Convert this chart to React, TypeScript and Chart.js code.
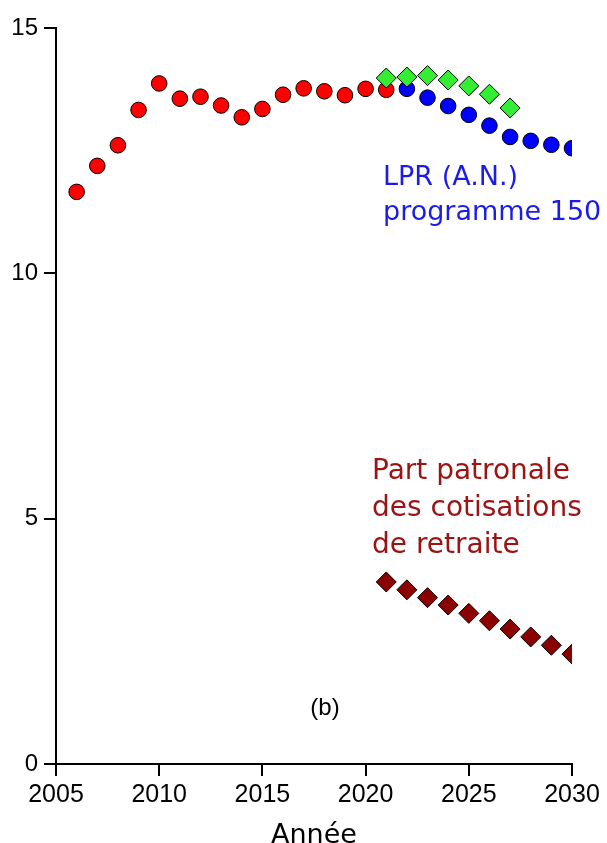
import React, { useEffect, useRef } from "react";
import { Chart, registerables } from "chart.js";

Chart.register(...registerables);

const redYears = [2006, 2007, 2008, 2009, 2010, 2011, 2012, 2013, 2014, 2015, 2016, 2017, 2018, 2019, 2020, 2021];
const redValues = [11.66, 12.19, 12.61, 13.33, 13.87, 13.56, 13.6, 13.42, 13.18, 13.35, 13.64, 13.77, 13.71, 13.63, 13.76, 13.74];

const blueYears = [2022, 2023, 2024, 2025, 2026, 2027, 2028, 2029, 2030];
const blueValues = [13.76, 13.58, 13.41, 13.23, 13.01, 12.78, 12.7, 12.62, 12.55];

const greenYears = [2021, 2022, 2023, 2024, 2025, 2026, 2027];
const greenValues = [13.98, 14.0, 14.03, 13.94, 13.82, 13.65, 13.37];

const darkRedYears = [2021, 2022, 2023, 2024, 2025, 2026, 2027, 2028, 2029, 2030];
const darkRedValues = [3.71, 3.55, 3.39, 3.24, 3.07, 2.92, 2.75, 2.59, 2.42, 2.24];

const xTicks = [2005, 2010, 2015, 2020, 2025, 2030];
const yTicks = [0, 5, 10, 15];

const blueLabel = ["LPR (A.N.)", "programme 150"];
const darkRedLabel = ["Part patronale", "des cotisations", "de retraite"];
const panelLabel = "(b)";
const xTitle = "Année";

const toPoints = (xs: number[], ys: number[]) => xs.map((x, i) => ({ x, y: ys[i] }));

const textPlugin = {
  id: "annotText",
  afterDatasetsDraw(chart: any) {
    const ctx = chart.ctx;
    ctx.save();
    ctx.textAlign = "left";
    ctx.textBaseline = "alphabetic";
    ctx.font = "27px 'DejaVu Sans'";
    ctx.fillStyle = "#1c1ce8";
    blueLabel.forEach((t, i) => ctx.fillText(t, 383, 185 + i * 35));
    ctx.font = "28px 'DejaVu Sans'";
    ctx.fillStyle = "#9a1414";
    darkRedLabel.forEach((t, i) => ctx.fillText(t, 372, 479 + i * 37));
    ctx.fillStyle = "#000";
    ctx.font = "24px 'Liberation Sans'";
    ctx.textAlign = "center";
    ctx.textBaseline = "middle";
    ctx.fillText(panelLabel, 325, 708);
    ctx.restore();
  },
};

export default function App() {
  const ref = useRef<HTMLCanvasElement | null>(null);
  useEffect(() => {
    if (!ref.current) return;
    const chart = new Chart(ref.current, {
      type: "scatter",
      data: {
        datasets: [
          {
            label: "green",
            data: toPoints(greenYears, greenValues),
            pointStyle: "rectRot",
            pointRadius: 10,
            backgroundColor: "#33ee33",
            borderColor: "#000",
            borderWidth: 1,
          },
          {
            label: "blue",
            data: toPoints(blueYears, blueValues),
            pointStyle: "circle",
            pointRadius: 7.8,
            backgroundColor: "#0000ff",
            borderColor: "#000",
            borderWidth: 1,
          },
          {
            label: "red",
            data: toPoints(redYears, redValues),
            pointStyle: "circle",
            pointRadius: 7.8,
            backgroundColor: "#ff0000",
            borderColor: "#000",
            borderWidth: 1,
          },
          {
            label: "darkred",
            data: toPoints(darkRedYears, darkRedValues),
            pointStyle: "rectRot",
            pointRadius: 10,
            backgroundColor: "#8b0000",
            borderColor: "#000",
            borderWidth: 1,
          },
        ],
      },
      options: {
        responsive: false,
        animation: false,
        devicePixelRatio: 1,
        layout: { padding: { left: 0, top: 28, right: 35, bottom: 0 } },
        plugins: { legend: { display: false }, tooltip: { enabled: false } },
        scales: {
          x: {
            type: "linear",
            min: 2005,
            max: 2030,
            afterFit: (s: any) => {
              s.height = 79;
            },
            afterBuildTicks: (s: any) => {
              s.ticks = xTicks.map((v) => ({ value: v }));
            },
            ticks: {
              color: "#000",
              font: { family: "'Liberation Sans'", size: 25 },
              padding: 4,
              maxRotation: 0,
              callback: (v: any) => String(v),
            },
            grid: {
              display: true,
              drawOnChartArea: false,
              drawTicks: true,
              tickLength: 12,
              color: "#000",
              lineWidth: 2,
            },
            border: { display: true, color: "#000", width: 2 },
            title: {
              display: true,
              text: xTitle,
              color: "#000",
              font: { family: "'DejaVu Sans'", size: 27, lineHeight: 1 },
              padding: { top: 0, bottom: -6 },
            },
          },
          y: {
            type: "linear",
            min: 0,
            max: 15,
            afterFit: (s: any) => {
              s.width = 56;
            },
            afterBuildTicks: (s: any) => {
              s.ticks = yTicks.map((v) => ({ value: v }));
            },
            ticks: {
              color: "#000",
              font: { family: "'Liberation Sans'", size: 24 },
              padding: 6,
              callback: (v: any) => String(v),
            },
            grid: {
              display: true,
              drawOnChartArea: false,
              drawTicks: true,
              tickLength: 12,
              color: "#000",
              lineWidth: 2,
            },
            border: { display: true, color: "#000", width: 2 },
          },
        },
      },
      plugins: [textPlugin],
    } as any);
    return () => chart.destroy();
  }, []);
  return (
    <div style={{ position: "absolute", left: 0, top: 0, width: 607, height: 843, background: "#fff" }}>
      <canvas ref={ref} width={607} height={843} />
    </div>
  );
}
